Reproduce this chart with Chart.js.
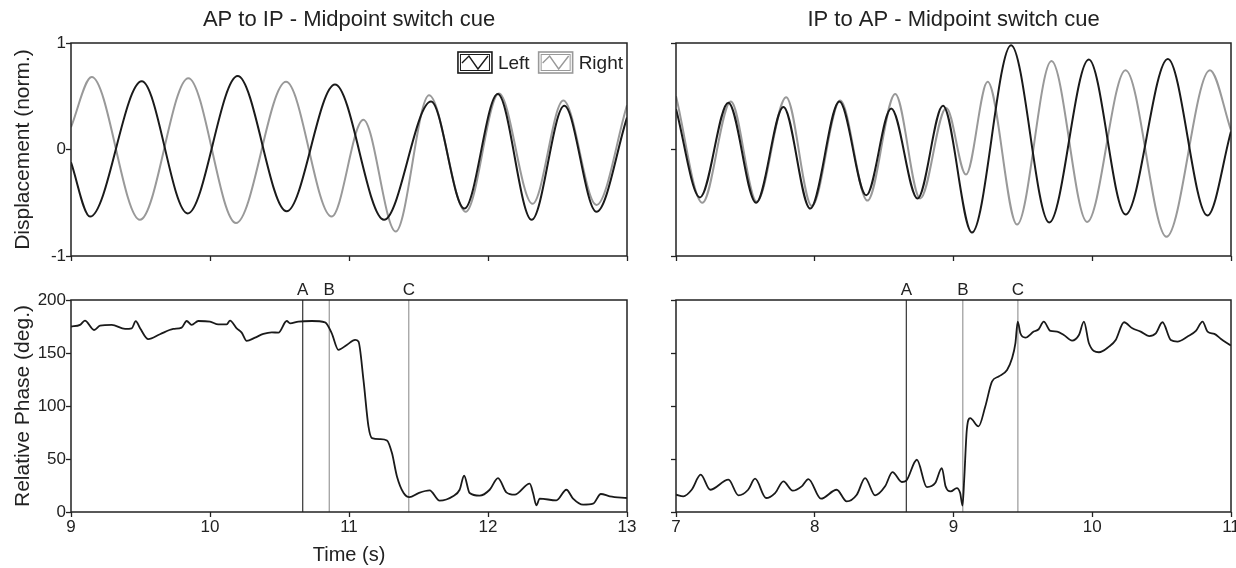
<!doctype html>
<html lang="en">

<head>
    <title>Midpoint switch cue</title>
    <meta charset="utf-8">
    <style>
        body { margin: 0; background: #fff; }
        #caixa { position: relative; width: 1236px; height: 568px; }
        #caixa canvas { position: absolute; left: 0; top: 0; }
    </style>
</head>

<body>

    <div id="caixa">
        <canvas id="disp-ap" width="1236" height="568"></canvas>
        <canvas id="disp-ip" width="1236" height="568"></canvas>
        <canvas id="phase-ap" width="1236" height="568"></canvas>
        <canvas id="phase-ip" width="1236" height="568"></canvas>
    </div>

    <script src="https://cdn.jsdelivr.net/npm/chart.js"></script>
    <script>
        // ---- data ----

        // AP to IP, displacement (norm.) - turning points of each trace
        const apLeftT = [9.0, 9.137, 9.509, 9.839, 10.199, 10.551, 10.899, 11.252, 11.59, 11.83, 12.07, 12.314, 12.549, 12.78, 13.0];
        const apLeftY = [-0.12, -0.63, 0.64, -0.60, 0.69, -0.58, 0.61, -0.66, 0.45, -0.555, 0.52, -0.66, 0.41, -0.585, 0.30];
        const apRightT = [9.0, 9.149, 9.496, 9.844, 10.187, 10.547, 10.875, 11.103, 11.336, 11.576, 11.84, 12.079, 12.32, 12.542, 12.78, 13.0];
        const apRightY = [0.21, 0.68, -0.66, 0.67, -0.69, 0.635, -0.63, 0.28, -0.77, 0.51, -0.585, 0.525, -0.51, 0.46, -0.52, 0.415];

        // IP to AP, displacement (norm.)
        const ipLeftT = [7.0, 7.173, 7.377, 7.577, 7.774, 7.967, 8.178, 8.371, 8.551, 8.741, 8.924, 9.133, 9.415, 9.69, 9.975, 10.24, 10.545, 10.83, 11.0];
        const ipLeftY = [0.38, -0.45, 0.44, -0.50, 0.40, -0.555, 0.45, -0.43, 0.385, -0.46, 0.41, -0.78, 0.98, -0.685, 0.845, -0.61, 0.85, -0.62, 0.17];
        const ipRightT = [7.0, 7.19, 7.395, 7.582, 7.794, 7.979, 8.183, 8.38, 8.58, 8.76, 8.948, 9.09, 9.246, 9.458, 9.706, 9.963, 10.24, 10.535, 10.848, 11.0];
        const ipRightY = [0.50, -0.50, 0.45, -0.49, 0.49, -0.53, 0.46, -0.48, 0.52, -0.46, 0.39, -0.235, 0.635, -0.705, 0.83, -0.68, 0.745, -0.82, 0.745, 0.18];

        // relative phase (deg.)
        const apPhaseT = [9.0, 9.065, 9.1, 9.166, 9.209, 9.293, 9.389, 9.437, 9.466, 9.497,
            9.556, 9.64, 9.736, 9.796, 9.832, 9.868, 9.916, 10.0, 10.06, 10.12,
            10.144, 10.192, 10.228, 10.264, 10.324, 10.384, 10.444, 10.492, 10.552, 10.576,
            10.636, 10.732, 10.828, 10.876, 10.924, 10.984, 11.044, 11.068, 11.104, 11.14,
            11.165, 11.225, 11.273, 11.309, 11.345, 11.393, 11.435, 11.5, 11.58, 11.652,
            11.748, 11.796, 11.828, 11.868, 11.94, 12.012, 12.072, 12.132, 12.192, 12.3,
            12.324, 12.348, 12.372, 12.492, 12.564, 12.612, 12.684, 12.756, 12.812, 12.876, 13.0];
        const apPhaseY = [175, 176.5, 180.5, 171.7, 175.8, 176.5, 172.7, 173.3, 180, 173.3,
            163, 167.7, 172.7, 174, 180.2, 176.5, 180.2, 179.6, 177, 177,
            180.5, 173.3, 169.2, 161.4, 164.5, 168, 169.5, 169.2, 180.2, 178,
            179.6, 180.2, 179, 168.6, 153, 157.6, 162.3, 160.8, 124.6, 80.7,
            69.7, 68.8, 67.5, 55.6, 33.6, 17.9, 14, 17.9, 20.4, 10.7,
            14.8, 21, 34.2, 17.9, 15.4, 21, 32, 18.5, 16.3, 26.7,
            17.9, 6.3, 12.6, 11, 21, 12.6, 6.9, 7.8, 17, 14.8, 13.2];
        const ipPhaseT = [7.0, 7.053, 7.113, 7.178, 7.246, 7.378, 7.45, 7.52, 7.57, 7.649,
            7.714, 7.774, 7.841, 7.906, 7.954, 8.045, 8.158, 8.23, 8.303, 8.363,
            8.435, 8.507, 8.56, 8.628, 8.659, 8.736, 8.808, 8.868, 8.916, 8.943,
            8.98, 9.024, 9.048, 9.065, 9.077, 9.096, 9.12, 9.18, 9.229, 9.277,
            9.325, 9.386, 9.422, 9.446, 9.463, 9.482, 9.518, 9.578, 9.614, 9.65,
            9.699, 9.747, 9.795, 9.855, 9.904, 9.94, 9.976, 10.048, 10.12, 10.169,
            10.229, 10.289, 10.349, 10.41, 10.458, 10.506, 10.566, 10.614, 10.687, 10.747,
            10.795, 10.831, 10.88, 10.928, 11.0];
        const ipPhaseY = [16.3, 14.8, 21, 35.2, 21, 30.5, 15.7, 21, 31.4, 13.2,
            17.9, 28.9, 20.1, 24.2, 31.1, 12.6, 21, 10, 16.3, 32,
            15.7, 24.2, 37.7, 28.3, 29.5, 49.3, 23.5, 27.3, 41.4, 24.2,
            19.5, 22.6, 17.9, 6, 30.5, 77.6, 88.5, 80.7, 99.5, 123,
            127.8, 134, 145, 159, 179.6, 168.6, 164.5, 170.2, 172.4, 179.6,
            170.8, 170.2, 167, 161.7, 167, 179.6, 159.2, 150.7, 156, 162.3,
            179, 173.3, 170.2, 166, 168.6, 179, 162.3, 160.8, 165.5, 170.8,
            179.6, 170.2, 168, 163.3, 157];

        // event markers A, B, C (s)
        const markerLabels = ['A', 'B', 'C'];
        const apMarkers = [10.667, 10.858, 11.43];
        const ipMarkers = [8.66, 9.067, 9.464];

        // tick values
        const dispTicks = [-1, 0, 1];
        const phaseTicks = [0, 50, 100, 150, 200];
        const apTimeTicks = [9, 10, 11, 12, 13];
        const ipTimeTicks = [7, 8, 9, 10, 11];

        // ---- drawing ----
        const fam = 'Liberation Sans, Arial, Helvetica, sans-serif';
        const ink = '#222';
        Chart.defaults.font.family = fam;
        Chart.defaults.color = ink;

        const pts = (ts, ys) => ts.map((t, i) => ({ x: t, y: ys[i] }));

        const trace = (label, t, y, color, w) => ({
            label: label, data: pts(t, y), borderColor: color, borderWidth: w,
            pointRadius: 0, fill: false, cubicInterpolationMode: 'monotone'
        });

        const markerLines = (times, y0, y1) => times.map((m, i) => ({
            data: [{ x: m, y: y0 }, { x: m, y: y1 }],
            borderColor: i === 0 ? '#333' : '#999', borderWidth: 1.2, pointRadius: 0
        }));

        // box round the plot area
        const frame = {
            id: 'frame',
            afterDraw(chart) {
                const { ctx, chartArea: a } = chart;
                ctx.save();
                ctx.strokeStyle = ink;
                ctx.lineWidth = 1.5;
                ctx.strokeRect(a.left, a.top, a.right - a.left, a.bottom - a.top);
                ctx.restore();
            }
        };

        // legend with the boxed line icon, inside the top right corner
        const boxLegend = {
            id: 'boxLegend',
            afterDraw(chart, args, opts) {
                if (!opts.display) return;
                const { ctx, chartArea: a } = chart;
                const w = 34, h = 21, y = a.top + 9;
                let x = a.right - 4;
                ctx.save();
                ctx.font = '19px ' + fam;
                ctx.textBaseline = 'middle';
                chart.data.datasets.filter(d => d.label).reverse().forEach(d => {
                    x -= ctx.measureText(d.label).width;
                    ctx.fillStyle = ink;
                    ctx.fillText(d.label, x, y + h / 2 + 1);
                    x -= 6 + w;
                    ctx.strokeStyle = d.borderColor;
                    ctx.lineWidth = 1.6;
                    ctx.strokeRect(x, y, w, h);
                    ctx.lineWidth = 1;
                    ctx.strokeRect(x + 2.5, y + 2.5, w - 5, h - 5);
                    ctx.lineWidth = 1.4;
                    ctx.beginPath();
                    ctx.moveTo(x + 4, y + 11);
                    ctx.lineTo(x + 11, y + 4);
                    ctx.lineTo(x + 20, y + 17);
                    ctx.lineTo(x + 30, y + 4);
                    ctx.stroke();
                    x -= 9;
                });
                ctx.restore();
            }
        };

        function panel(id, p) {
            const [left, top, right, bottom] = p.area;
            const yW = p.yLabels ? left : 20;
            const xH = p.xLabels ? 568 - bottom : 20;
            const tx = p.xTicks, ty = p.yTicks;

            new Chart(document.getElementById(id), {
                type: 'line',
                data: { datasets: p.datasets },
                options: {
                    responsive: false,
                    animation: false,
                    events: [],
                    layout: {
                        autoPadding: false,
                        padding: { left: left - yW, right: 1236 - right, top: 0, bottom: 568 - bottom - xH }
                    },
                    plugins: {
                        legend: { display: false },
                        tooltip: { enabled: false },
                        boxLegend: { display: !!p.legend }
                    },
                    scales: {
                        x: {
                            type: 'linear', min: tx[0], max: tx[tx.length - 1],
                            afterBuildTicks: s => { s.ticks = tx.map(v => ({ value: v })); },
                            ticks: {
                                autoSkip: false, maxRotation: 0, padding: 1.5, color: ink,
                                font: { size: 17, lineHeight: 1 },
                                callback: v => p.xLabels ? String(v) : ''
                            },
                            grid: { drawOnChartArea: false, tickLength: 5, tickColor: ink, tickWidth: 1.3 },
                            border: { display: false },
                            title: {
                                display: !!p.xTitle, text: p.xTitle, color: ink,
                                font: { size: 20, lineHeight: 1.2 }, padding: { top: 0, bottom: 1 }
                            },
                            afterFit: s => { s.height = xH; s.paddingLeft = 0; s.paddingRight = 0; }
                        },
                        x2: {
                            type: 'linear', position: 'top', min: tx[0], max: tx[tx.length - 1],
                            afterBuildTicks: s => { s.ticks = (p.markers || []).map(v => ({ value: v })); },
                            ticks: {
                                display: !!p.markers, autoSkip: false, maxRotation: 0, padding: 1.5, color: ink,
                                font: { size: 17, lineHeight: 1 },
                                callback: (v, i) => markerLabels[i]
                            },
                            grid: { display: false, drawTicks: false },
                            border: { display: false },
                            title: {
                                display: !!p.title, text: p.title, color: ink,
                                font: { size: 22, lineHeight: 1.2 }, padding: { top: 7, bottom: 0 }
                            },
                            afterFit: s => { s.height = top; s.paddingLeft = 0; s.paddingRight = 0; }
                        },
                        y: {
                            min: ty[0], max: ty[ty.length - 1],
                            afterBuildTicks: s => { s.ticks = ty.map(v => ({ value: v })); },
                            ticks: {
                                padding: 0, color: ink, font: { size: 17 },
                                callback: v => p.yLabels ? String(v) : ''
                            },
                            grid: { drawOnChartArea: false, tickLength: 5, tickColor: ink, tickWidth: 1.3 },
                            border: { display: false },
                            title: {
                                display: !!p.yTitle, text: p.yTitle, color: ink,
                                font: { size: 21, lineHeight: 1.2 }, padding: { top: 10.5, bottom: 0 }
                            },
                            afterFit: s => { s.width = yW; s.paddingTop = 0; s.paddingBottom = 0; }
                        }
                    }
                },
                plugins: [frame, boxLegend]
            });
        }

        // top row: displacement
        panel('disp-ap', {
            area: [71, 43, 627, 256], xTicks: apTimeTicks, yTicks: dispTicks,
            yLabels: true, xLabels: false, legend: true,
            title: 'AP to IP - Midpoint switch cue', yTitle: 'Displacement (norm.)',
            datasets: [
                trace('Left', apLeftT, apLeftY, '#1a1a1a', 2),
                trace('Right', apRightT, apRightY, '#999', 2)
            ]
        });
        panel('disp-ip', {
            area: [676, 43, 1231, 256], xTicks: ipTimeTicks, yTicks: dispTicks,
            yLabels: false, xLabels: false,
            title: 'IP to AP - Midpoint switch cue',
            datasets: [
                trace('Left', ipLeftT, ipLeftY, '#1a1a1a', 2),
                trace('Right', ipRightT, ipRightY, '#999', 2)
            ]
        });

        // bottom row: relative phase with the A/B/C events
        panel('phase-ap', {
            area: [71, 300, 627, 512], xTicks: apTimeTicks, yTicks: phaseTicks,
            yLabels: true, xLabels: true, markers: apMarkers,
            yTitle: 'Relative Phase (deg.)', xTitle: 'Time (s)',
            datasets: [trace('', apPhaseT, apPhaseY, '#1a1a1a', 1.8)]
                .concat(markerLines(apMarkers, phaseTicks[0], phaseTicks[phaseTicks.length - 1]))
        });
        panel('phase-ip', {
            area: [676, 300, 1231, 512], xTicks: ipTimeTicks, yTicks: phaseTicks,
            yLabels: false, xLabels: true, markers: ipMarkers,
            datasets: [trace('', ipPhaseT, ipPhaseY, '#1a1a1a', 1.8)]
                .concat(markerLines(ipMarkers, phaseTicks[0], phaseTicks[phaseTicks.length - 1]))
        });
    </script>
</body>
</html>
